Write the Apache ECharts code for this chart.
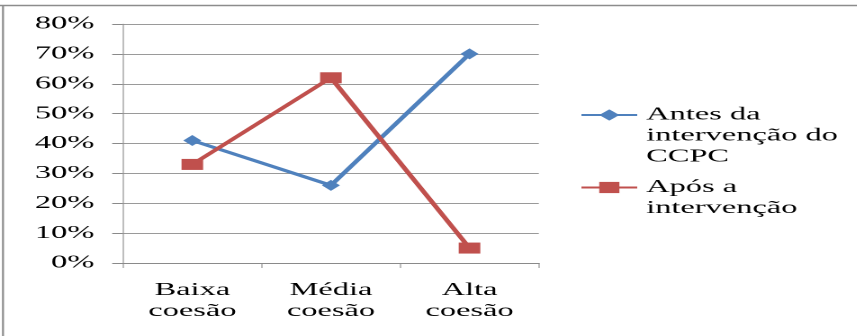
<!DOCTYPE html>
<html>
<head>
<meta charset="utf-8">
<script src="https://cdn.jsdelivr.net/npm/echarts@6/dist/echarts.min.js"></script>
<style>
  html, body { margin: 0; padding: 0; background: #fff; overflow: hidden; }
  #wrap { width: 857px; height: 336px; overflow: hidden; position: relative; }
  #chart { position: absolute; left: 0; top: 0; width: 476.11px; height: 336px; transform: scaleX(1.8); transform-origin: 0 0; }
</style>
</head>
<body>
<div id="wrap"><div id="chart"></div></div>
<script>
const categories = ['Baixa coesão', 'Média coesão', 'Alta coesão'];
const categoryLabels = ['Baixa\ncoesão', 'Média\ncoesão', 'Alta\ncoesão'];
const seriesNames = ['Antes da intervenção do CCPC', 'Após a intervenção'];
const legendLabels = ['\n\nAntes da\nintervenção do\nCCPC', '\nApós a\nintervenção'];
const antes = [41, 26, 70];
const apos = [33, 62, 5];
const yTicks = [0, 10, 20, 30, 40, 50, 60, 70, 80];

const SX = 1.8;            // horizontal stretch of the reference
const W = 857 / SX;
const FONT = "'Liberation Serif'";

const chart = echarts.init(document.getElementById('chart'), null, { renderer: 'canvas', devicePixelRatio: 2 });

function legendFormatter(name) {
  return legendLabels[seriesNames.indexOf(name)];
}

chart.setOption({
  animation: false,
  backgroundColor: '#ffffff',
  grid: {
    left: 123 / SX,
    right: W - 539 / SX,
    top: 24,
    bottom: 336 - 263,
    containLabel: false,
    outerBoundsMode: 'none'
  },
  xAxis: {
    type: 'category',
    data: categories,
    boundaryGap: true,
    axisLine: { show: true, lineStyle: { color: '#8a8a8a', width: 1 } },
    axisTick: { show: true, alignWithLabel: false, length: 5, lineStyle: { color: '#8a8a8a', width: 1 / SX } },
    axisLabel: {
      margin: 17,
      fontFamily: FONT,
      fontSize: 18,
      lineHeight: 21,
      color: '#000',
      formatter: function (v) { return categoryLabels[categories.indexOf(v)]; }
    },
    splitLine: { show: false }
  },
  yAxis: {
    type: 'value',
    min: yTicks[0],
    max: yTicks[yTicks.length - 1],
    interval: yTicks[1] - yTicks[0],
    axisLine: { show: true, lineStyle: { color: '#8a8a8a', width: 1 / SX } },
    axisTick: { show: true, inside: false, length: 6, lineStyle: { color: '#8a8a8a', width: 1 } },
    axisLabel: {
      margin: 16,
      fontFamily: FONT,
      fontSize: 18,
      color: '#000',
      formatter: '{value}%'
    },
    splitLine: { show: true, lineStyle: { color: '#9a9a9a', width: 1 } }
  },
  legend: [
    {
      data: [seriesNames[0]],
      orient: 'vertical',
      left: 322,
      top: 62.5,
      padding: 0,
      itemWidth: 31,
      itemHeight: 14,
      formatter: legendFormatter,
      textStyle: { fontFamily: FONT, fontSize: 18, lineHeight: 21, color: '#000' }
    },
    {
      data: [seriesNames[1]],
      orient: 'vertical',
      left: 322,
      top: 156,
      padding: 0,
      itemWidth: 31,
      itemHeight: 14,
      formatter: legendFormatter,
      textStyle: { fontFamily: FONT, fontSize: 18, lineHeight: 21, color: '#000' }
    }
  ],
  graphic: [
    { type: 'line', shape: { x1: 0, y1: 5.5, x2: W, y2: 5.5 }, style: { stroke: '#8c8c8c', lineWidth: 1.6 }, silent: true },
    { type: 'line', shape: { x1: 3 / SX, y1: 5, x2: 3 / SX, y2: 336 }, style: { stroke: '#8c8c8c', lineWidth: 2 / SX }, silent: true }
  ],
  series: [
    {
      name: seriesNames[0],
      type: 'line',
      data: antes,
      symbol: 'diamond',
      symbolSize: [10, 11],
      lineStyle: { color: '#4F81BD', width: 3 },
      itemStyle: { color: '#4F81BD' },
      z: 2
    },
    {
      name: seriesNames[1],
      type: 'line',
      data: apos,
      symbol: 'rect',
      symbolSize: [12, 11],
      lineStyle: { color: '#C0504D', width: 3 },
      itemStyle: { color: '#C0504D' },
      z: 3
    }
  ]
});
</script>
</body>
</html>
